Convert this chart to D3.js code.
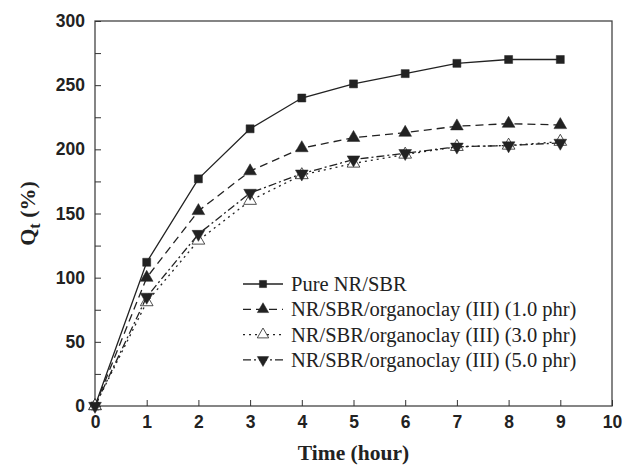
<!DOCTYPE html>
<html>
<head>
<meta charset="utf-8">
<script src="https://cdn.jsdelivr.net/npm/d3@7"></script>
<style>
  body { margin: 0; background: #fff; }
  .tick text { font-family: "Liberation Sans", Arial, sans-serif; font-weight: bold; font-size: 17.5px; fill: #222; }
  .axis path, .axis line { stroke: #333; }
  .lbl { font-family: "Liberation Serif", "Times New Roman", serif; font-weight: bold; fill: #222; }
  .leg { font-family: "Liberation Serif", "Times New Roman", serif; font-size: 20.5px; fill: #222; }
</style>
</head>
<body>
<script>
//Data
var hours = [0, 1, 2, 3, 4, 5, 6, 7, 8, 9];
var pure = [0, 112, 177, 216, 240, 251, 259, 267, 270, 270];
var phr1 = [0, 100, 152, 183, 201, 209, 213, 218, 220, 219];
var phr3 = [0, 81, 129, 160, 180, 189, 196, 202, 203, 206];
var phr5 = [0, 85, 134, 166, 181, 192, 197, 202, 203, 205];
var names = ["Pure NR/SBR", "NR/SBR/organoclay (III) (1.0 phr)",
             "NR/SBR/organoclay (III) (3.0 phr)", "NR/SBR/organoclay (III) (5.0 phr)"];
var xTicks = [0, 1, 2, 3, 4, 5, 6, 7, 8, 9, 10];
var yTicks = [0, 50, 100, 150, 200, 250, 300];

var svgwidth = 623, svgheight = 467;
var margin = {top: 21, right: 11, bottom: 61, left: 95},
    width = svgwidth - margin.left - margin.right,
    height = svgheight - margin.top - margin.bottom;

var svg = d3.select("body").append("svg")
    .attr("width", svgwidth)
    .attr("height", svgheight);

var x = d3.scaleLinear().domain([0, 10]).range([0, width]),
    y = d3.scaleLinear().domain([0, 300]).range([height, 0]);

var g = svg.append("g")
    .attr("transform", "translate(" + margin.left + "," + margin.top + ")");

//Frame
g.append("rect")
    .attr("width", width).attr("height", height)
    .attr("fill", "none").attr("stroke", "#444").attr("stroke-width", 1.3);

//Axes with inward ticks
g.append("g")
    .attr("class", "axis")
    .attr("transform", "translate(0," + height + ")")
    .call(d3.axisBottom(x).tickValues(xTicks).tickFormat(d3.format("d")).tickSizeInner(-6).tickSizeOuter(0).tickPadding(10))
    .call(function(s) { s.select(".domain").remove(); });

g.append("g")
    .attr("class", "axis")
    .call(d3.axisLeft(y).tickValues(d3.range(0, 301, 25)).tickFormat(function(d) { return yTicks.indexOf(d) >= 0 ? d : ""; })
      .tickSizeInner(-6).tickSizeOuter(0).tickPadding(10))
    .call(function(s) { s.select(".domain").remove(); });

//Axis titles
svg.append("text")
    .attr("class", "lbl")
    .attr("x", margin.left + x(5))
    .attr("y", 460)
    .attr("text-anchor", "middle")
    .style("font-size", "21.5px")
    .text("Time (hour)");

var yl = svg.append("text")
    .attr("class", "lbl")
    .attr("transform", "translate(35," + (margin.top + y(150)) + ") rotate(-90)")
    .attr("text-anchor", "middle")
    .style("font-size", "22px");
yl.append("tspan").text("Q");
yl.append("tspan").attr("dy", 5).style("font-size", "16px").text("t");
yl.append("tspan").attr("dy", -5).text(" (%)");

//Series
var series = [
  {vals: pure, dash: null, sym: d3.symbolSquare, size: 64, fill: "#222", rot: 0},
  {vals: phr1, dash: "8,5", sym: d3.symbolTriangle, size: 70, fill: "#222", rot: 0},
  {vals: phr3, dash: "2,4", sym: d3.symbolTriangle, size: 70, fill: "#fff", rot: 0},
  {vals: phr5, dash: "8,3,2,3", sym: d3.symbolTriangle, size: 70, fill: "#222", rot: 180}
];

var line = d3.line()
    .x(function(d, i) { return x(hours[i]); })
    .y(function(d) { return y(d); });

series.forEach(function(s) {
  g.append("path")
    .datum(s.vals)
    .attr("d", line)
    .attr("fill", "none")
    .attr("stroke", "#222")
    .attr("stroke-width", 1.3)
    .attr("stroke-dasharray", s.dash);

  g.selectAll(null)
    .data(s.vals)
    .enter().append("path")
      .attr("d", d3.symbol().type(s.sym).size(s.size))
      .attr("transform", function(d, i) { return "translate(" + x(hours[i]) + "," + y(d) + ") rotate(" + s.rot + ")"; })
      .attr("fill", s.fill)
      .attr("stroke", "#222")
      .attr("stroke-width", s.fill == "#fff" ? 0.8 : 0.5);
});

//Legend
var leg = svg.append("g").attr("transform", "translate(243,284)");
series.forEach(function(s, i) {
  var row = leg.append("g").attr("transform", "translate(0," + (i * 25.3) + ")");
  row.append("line")
    .attr("x1", 0).attr("x2", 40).attr("y1", 0).attr("y2", 0)
    .attr("stroke", "#222").attr("stroke-width", 1.3)
    .attr("stroke-dasharray", s.dash);
  row.append("path")
    .attr("d", d3.symbol().type(s.sym).size(s.size * 0.8))
    .attr("transform", "translate(20,0) rotate(" + s.rot + ")")
    .attr("fill", s.fill).attr("stroke", "#222")
    .attr("stroke-width", s.fill == "#fff" ? 0.8 : 0.5);
  row.append("text")
    .attr("class", "leg")
    .attr("x", 48).attr("y", 7)
    .text(names[i]);
});
</script>
</body>
</html>
